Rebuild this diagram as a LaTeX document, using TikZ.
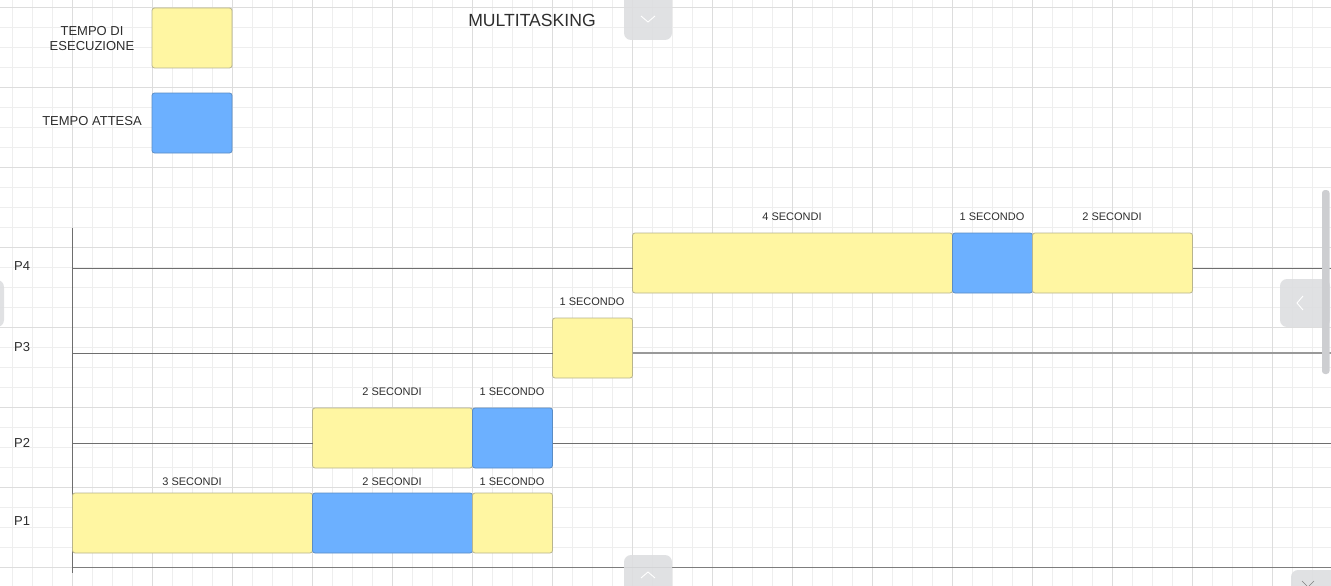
\documentclass[tikz,border=0pt]{standalone}
\usepackage{fontspec}
\setmainfont{Liberation Sans}
\definecolor{gridminor}{HTML}{EEEEEE}
\definecolor{gridmajor}{HTML}{DDDDDD}
\definecolor{execfill}{HTML}{FFF6A2}
\definecolor{execdraw}{HTML}{B8B48E}
\definecolor{waitfill}{HTML}{6CB0FF}
\definecolor{waitdraw}{HTML}{5A8CC4}
\definecolor{linegray}{HTML}{6E6E6E}
\definecolor{txt}{HTML}{2E2E2E}
\definecolor{uigray}{HTML}{DDDEE0}
\definecolor{scrollgray}{HTML}{CDCED1}
\tikzset{
  bar/.style={anchor=north west, minimum height=60pt, inner sep=0pt, outer sep=0pt, rounded corners=2.5pt, line width=0.8pt},
  execbox/.style={bar, fill=execfill, draw=execdraw},
  waitbox/.style={bar, fill=waitfill, draw=waitdraw},
  durlabel/.style={font=\fontsize{11}{13}\selectfont, text=txt, inner sep=0pt},
  plabel/.style={font=\fontsize{13}{15}\selectfont, text=txt, inner sep=0pt, anchor=west},
  legendtext/.style={font=\fontsize{13}{15}\selectfont, text=txt, inner sep=0pt, align=center},
  procline/.style={draw=linegray, line width=0.9pt},
  uibtn/.style={fill=uigray, draw=none},
  chev/.style={draw=white, line width=0.9pt},
}
\begin{document}
\begin{tikzpicture}[x=1pt,y=-1pt]
\useasboundingbox (0,0) rectangle (1331,586);
\fill[white] (0,0) rectangle (1331,586);
% grid
\foreach \i in {0,...,66} {\draw[gridminor, line width=0.8pt] (12.5+20*\i,0) -- (12.5+20*\i,586);}
\foreach \i in {0,...,29} {\draw[gridminor, line width=0.8pt] (0,7.5+20*\i) -- (1331,7.5+20*\i);}
\foreach \i in {0,...,16} {\draw[gridmajor, line width=0.9pt] (72.5+80*\i,0) -- (72.5+80*\i,586);}
\foreach \i in {0,...,7} {\draw[gridmajor, line width=0.9pt] (0,7.5+80*\i) -- (1331,7.5+80*\i);}

% title
\node[font=\fontsize{17.6}{19}\selectfont, text=txt, inner sep=0pt] (title) at (532,20.5) {MULTITASKING};

% legend
\node[execbox, minimum width=80pt] (legexec) at (152,8) {};
\node[waitbox, minimum width=80pt] (legwait) at (152,93) {};
\node[legendtext] (legexectxt) at (92,38.5) {TEMPO DI\\ESECUZIONE};
\node[legendtext] (legwaittxt) at (92,121.5) {TEMPO ATTESA};

% axes
\coordinate (axtop) at (72.5,228);
\coordinate (axbot) at (72.5,573);
\coordinate (base) at (72.5,567.5);
\coordinate (baseR) at (1331,567.5);
\draw[draw=linegray, line width=1pt] (axtop) -- (axbot);
\draw[draw=linegray!90, line width=1.3pt] (base) -- (baseR);

% process labels
\node[plabel] (P4) at (14,266.5) {P4};
\node[plabel] (P3) at (14,347.5) {P3};
\node[plabel] (P2) at (14,442.5) {P2};
\node[plabel] (P1) at (14,521.5) {P1};

% P1
\node[execbox, minimum width=240pt] (p1a) at (72.5,493) {};
\node[waitbox, minimum width=160pt] (p1b) at (312.5,493) {};
\node[execbox, minimum width=80pt] (p1c) at (472.5,493) {};
\node[durlabel] at (192,481.8) {3 SECONDI};
\node[durlabel] at (392,481.8) {2 SECONDI};
\node[durlabel] at (512,481.8) {1 SECONDO};

% P2
\node[execbox, minimum width=160pt] (p2a) at (312.5,408) {};
\node[waitbox, minimum width=80pt] (p2b) at (472.5,408) {};
\node[durlabel] at (392,391.8) {2 SECONDI};
\node[durlabel] at (512,391.8) {1 SECONDO};
\coordinate (l2L) at (72.5,443.3);
\coordinate (l2R) at (1331,443.3);
\draw[procline] (l2L) -- (l2L -| p2a.west);
\draw[procline] (l2R -| p2b.east) -- (l2R);

% P3
\node[execbox, minimum width=80pt] (p3a) at (552.5,318) {};
\node[durlabel] at (592,301.8) {1 SECONDO};
\coordinate (l3L) at (72.5,353.3);
\coordinate (l3R) at (1331,352.8);
\draw[procline] (l3L) -- (l3L -| p3a.west);
\draw[draw=linegray!70, line width=1.4pt] (l3R -| p3a.east) -- (l3R);

% P4
\node[execbox, minimum width=320pt] (p4a) at (632.5,233) {};
\node[waitbox, minimum width=80pt] (p4b) at (952.5,233) {};
\node[execbox, minimum width=160pt] (p4c) at (1032.5,233) {};
\node[durlabel] at (792,216.8) {4 SECONDI};
\node[durlabel] at (992,216.8) {1 SECONDO};
\node[durlabel] at (1112,216.8) {2 SECONDI};
\coordinate (l4L) at (72.5,268.3);
\coordinate (l4R) at (1331,268.3);
\draw[procline] (l4L) -- (l4L -| p4a.west);
\draw[procline] (l4R -| p4c.east) -- (l4R);

% viewer overlay controls
\fill[uibtn, opacity=0.9, rounded corners=7pt] (624,-10) rectangle (672,40);
\draw[chev] (641,16) -- (648,22) -- (655,16);
\fill[uibtn, opacity=0.9, rounded corners=7pt] (624,555) rectangle (672,600);
\draw[chev] (641,578) -- (648,572) -- (655,578);
\fill[uibtn, opacity=0.9, rounded corners=7pt] (1280,279) rectangle (1330,327);
\draw[chev] (1303,296) -- (1297,303) -- (1303,310);
\fill[uibtn, opacity=0.9, rounded corners=7pt] (-10,280) rectangle (4,327);
\fill[scrollgray, rounded corners=3pt] (1322,190) rectangle (1329.5,374);
\fill[uibtn, opacity=0.9, rounded corners=7pt] (1291,570) rectangle (1345,600);
\draw[draw=gray, line width=0.6pt] (1302,581) -- (1307,586);
\draw[draw=gray, line width=0.6pt] (1314,581) -- (1309,586);
\end{tikzpicture}
\end{document}
